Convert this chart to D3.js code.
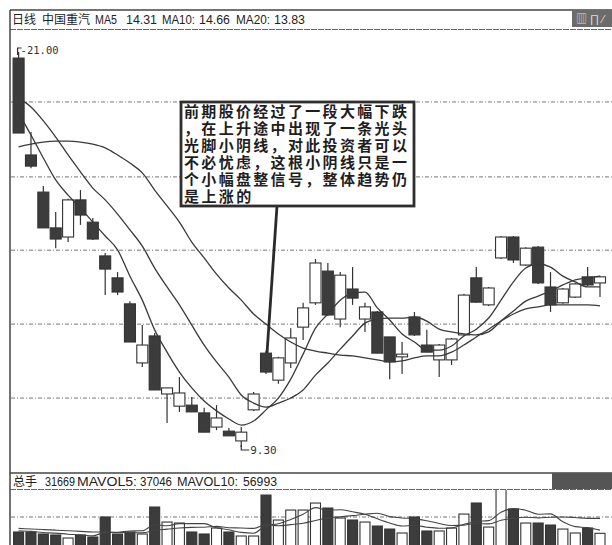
<!DOCTYPE html>
<html><head><meta charset="utf-8">
<script src="https://cdn.jsdelivr.net/npm/d3@7"></script>
<style>
html,body{margin:0;padding:0;background:#fff;}
svg{display:block;}
</style></head><body>
<svg id="c" width="612" height="545"></svg>
<script>
// ---------- DATA ----------
const openP  = [20.82,17.95,16.85,15.79,15.52,16.62,15.96,14.96,14.31,13.54,
                11.79,12.59,10.87,10.51,10.54,10.31,9.89,9.77,9.48,10.40,
                12.08,11.28,11.79,12.85,13.57,14.51,13.09,13.98,13.09,13.30,
                12.56,11.97,13.15,12.32,11.88,11.88,12.62,14.31,13.51,14.90,
                15.52,14.69,15.22,14.04,13.57,13.74,14.34,14.16];
const highP  = [21.00,18.63,17.03,16.26,16.65,16.91,16.08,15.05,14.48,13.62,
                12.91,12.68,11.05,11.37,10.78,10.46,10.54,9.86,9.89,10.93,
                12.14,11.97,12.82,13.57,14.87,14.75,14.48,14.63,13.57,13.33,
                12.56,12.41,13.30,12.77,12.35,12.53,13.83,14.63,14.04,15.55,
                15.55,15.22,15.25,14.48,14.01,14.16,14.63,14.37];
const lowP   = [18.60,17.56,15.79,15.19,15.37,15.88,15.43,13.80,13.80,12.41,
                11.67,10.99,10.01,10.34,10.34,9.74,9.80,9.63,9.30,10.37,
                11.46,11.17,11.64,12.47,13.51,13.18,12.85,13.51,12.71,12.08,
                11.31,11.46,12.59,12.11,11.37,11.73,12.59,13.57,13.48,14.87,
                14.75,14.66,14.13,13.30,13.54,13.71,14.07,13.74];
const closeP = [18.60,17.62,15.79,15.46,16.62,16.17,15.46,14.57,13.89,12.41,
                12.32,10.99,11.05,10.90,10.34,9.74,10.16,9.63,9.74,10.87,
                11.52,11.94,12.53,13.42,14.75,13.21,14.39,13.71,13.45,12.08,
                11.82,12.05,12.62,12.11,12.32,12.50,13.80,13.59,14.01,15.52,
                14.84,15.19,14.16,13.51,13.98,14.13,14.10,14.34];
const ma5  = [19.19,18.54,17.86,17.21,16.76,16.38,15.96,15.55,15.14,14.36,
              13.65,12.77,12.11,11.52,11.05,10.66,10.37,10.13,9.95,10.07,
              10.40,10.75,11.31,12.05,12.82,13.24,13.65,13.86,13.89,13.42,
              13.06,12.65,12.41,12.17,12.17,12.29,12.59,12.79,13.12,13.65,
              14.19,14.60,14.72,14.63,14.36,14.19,14.04,14.04];
const ma10 = [19.64,19.37,18.96,18.48,17.95,17.45,16.97,16.62,16.20,15.73,
              15.25,14.60,14.04,13.51,12.91,12.32,11.82,11.37,10.84,10.60,
              10.48,10.60,10.75,10.99,11.43,11.79,12.20,12.59,12.97,13.09,
              13.12,13.12,13.15,13.03,12.79,12.71,12.65,12.62,12.71,13.03,
              13.33,13.62,13.77,13.92,14.10,14.25,14.31,14.36];
const ma20 = [18.19,18.27,18.33,18.36,18.36,18.33,18.27,18.16,17.95,17.71,
              17.42,16.91,16.44,15.96,15.37,14.90,14.42,14.01,13.65,13.24,
              12.94,12.65,12.41,12.23,12.14,12.08,12.02,12.00,11.94,11.88,
              11.82,11.85,11.94,12.00,12.00,12.11,12.32,12.56,12.79,13.03,
              13.24,13.39,13.45,13.51,13.51,13.51,13.51,13.48];
const volume = [33900,33900,30500,28800,23700,28800,25400,59300,30500,33900,
                30500,76200,50800,49100,33900,30500,40600,33900,27100,27100,
                96500,54200,71100,71100,83000,74500,57600,54200,50800,44000,
                38900,32200,59300,35600,35600,40600,64300,83000,42300,106700,
                72800,49100,49100,45700,38900,32200,40600,31669];
const mavol5  = [36000,35000,33000,32000,30200,29100,27400,33200,33500,35600,
                 35900,46100,44400,48100,48100,48100,41000,37600,33200,31800,
                 45000,47800,55200,64000,75200,70800,71500,68100,64000,56200,
                 49100,44000,45000,42000,40300,40700,47100,51800,53200,67400,
                 73800,70800,64000,64700,51100,43000,41300,37046];
const mavol10 = [40000,39000,38000,37000,36000,35000,34000,34000,33000,32900,
                 32500,36800,38800,40800,41800,42000,43500,41000,40700,40000,
                 46600,44400,46400,48600,53500,57900,59600,61600,64000,65700,
                 59900,57700,56600,53000,48300,44900,45600,48400,47600,53900,
                 57200,58900,57900,58900,59300,58400,57000,56993];
const priceGrid = [19.52, 17.30, 15.13, 12.94, 10.75];
const volGrid = [59300];
const headerParts = ["日线","中国重汽","MA5","14.31","MA10:","14.66","MA20:","13.83"];
const volHeaderParts = ["总手","31669","MAVOL5:","37046","MAVOL10:","56993"];
const noteLines = ["前期股价经过了一段大幅下跌","，在上升途中出现了一条光头","光脚小阴线，对此投资者可以",
                   "不必忧虑，这根小阴线只是一","个小幅盘整信号，整体趋势仍","是上涨的"];
const highLabel = "-21.00", lowLabel = "9.30";
const noteIndex = 20;

// ---------- LAYOUT ----------
const svg = d3.select("#c");
const N = closeP.length, idx = d3.range(N);
const x = d3.scalePoint().domain(idx).range([18.6, 600]);
const y = d3.scaleLinear().domain([9.30, 21.00]).range([447, 52]);
const yv = d3.scaleLinear().domain([0, 100000]).range([552, 493]);
const ink = "#333", dark = "#3c3c3c";
const font = "'Liberation Sans','Noto Sans CJK SC',sans-serif";

svg.append("rect").attr("width",612).attr("height",545).attr("fill","#fff");
const defs = svg.append("defs");
defs.append("clipPath").attr("id","cm").append("rect").attr("x",11).attr("y",30).attr("width",601).attr("height",442);
defs.append("clipPath").attr("id","cv").append("rect").attr("x",11).attr("y",490).attr("width",601).attr("height",60);

// grid lines
svg.append("g").selectAll("line").data(priceGrid).join("line")
  .attr("x1",11).attr("x2",612).attr("y1",d=>y(d)).attr("y2",d=>y(d))
  .attr("stroke","#777").attr("stroke-width",1).attr("stroke-dasharray","4,2,1,2");
svg.append("g").selectAll("line").data(volGrid).join("line")
  .attr("x1",11).attr("x2",612).attr("y1",d=>yv(d)).attr("y2",d=>yv(d))
  .attr("stroke","#777").attr("stroke-width",1).attr("stroke-dasharray","4,2,1,2");

// frame
const frame = svg.append("g").attr("stroke","#444").attr("fill","none");
frame.append("line").attr("x1",10).attr("x2",612).attr("y1",10).attr("y2",10).attr("stroke-width",1.5);
frame.append("line").attr("x1",10).attr("x2",612).attr("y1",29.5).attr("y2",29.5).attr("stroke","#666").attr("stroke-dasharray","6,1");
frame.append("line").attr("x1",10).attr("x2",10).attr("y1",10).attr("y2",545).attr("stroke-width",1.5);
frame.append("line").attr("x1",10).attr("x2",612).attr("y1",473).attr("y2",473).attr("stroke-width",1.5);
frame.append("line").attr("x1",10).attr("x2",612).attr("y1",489.5).attr("y2",489.5).attr("stroke","#666").attr("stroke-dasharray","6,1");
svg.append("rect").attr("x",572).attr("y",10).attr("width",40).attr("height",17).attr("fill","#6b6b6b");
svg.append("text").attr("x",576).attr("y",23).attr("fill","#ddd").attr("font-size",11).attr("font-family",font).text("▥ ∏ ⁄");
svg.append("rect").attr("x",552).attr("y",473).attr("width",60).attr("height",16).attr("fill","#555");

// candles
const main = svg.append("g").attr("clip-path","url(#cm)");
const cg = main.append("g");
idx.forEach(i=>{
  const up = closeP[i] >= openP[i];
  const g = cg.append("g");
  g.append("line").attr("x1",x(i)).attr("x2",x(i)).attr("y1",y(highP[i])).attr("y2",y(lowP[i]))
    .attr("stroke",ink).attr("stroke-width",1.2);
  const top = y(Math.max(openP[i],closeP[i])), bot = y(Math.min(openP[i],closeP[i]));
  g.append("rect").attr("x",x(i)-5.5).attr("width",11).attr("y",top).attr("height",Math.max(1.5,bot-top))
    .attr("fill",up?"#fff":dark).attr("stroke",ink).attr("stroke-width",1.1);
});

// moving averages
const line = d3.line().x((d,i)=>x(i)).y(d=>y(d)).curve(d3.curveMonotoneX);
[ma5, ma10, ma20].forEach(s=>{
  main.append("path").attr("d",line(s)).attr("fill","none").attr("stroke","#3a3a3a").attr("stroke-width",1.3);
});

// high / low markers
const iH = highP.indexOf(d3.max(highP)), iL = lowP.indexOf(d3.min(lowP));
svg.append("path").attr("d",`M${x(iH)-1},${y(highP[iH])+3}V${y(highP[iH])-4}H${x(iH)+3}`)
  .attr("fill","none").attr("stroke",ink).attr("stroke-width",1.2);
svg.append("text").attr("x",x(iH)+2).attr("y",y(highP[iH])+1.5).attr("font-size",10.5)
  .attr("font-family","'DejaVu Sans Mono',monospace").attr("fill","#333").text(highLabel);
svg.append("path").attr("d",`M${x(iL)},${y(lowP[iL])-2}V${y(lowP[iL])+3}H${x(iL)+8}`)
  .attr("fill","none").attr("stroke",ink).attr("stroke-width",1.2);
svg.append("text").attr("x",x(iL)+9).attr("y",y(lowP[iL])+7).attr("font-size",11)
  .attr("font-family","'DejaVu Sans Mono',monospace").attr("fill","#333").text(lowLabel);

// volume
const vg = svg.append("g").attr("clip-path","url(#cv)");
idx.forEach(i=>{
  const up = closeP[i] >= openP[i];
  vg.append("rect").attr("x",x(i)-5).attr("width",10).attr("y",yv(volume[i])).attr("height",yv(0)-yv(volume[i]))
    .attr("fill",up?"#fff":dark).attr("stroke",ink).attr("stroke-width",1.1);
});
const vline = d3.line().x((d,i)=>x(i)).y(d=>yv(d)).curve(d3.curveMonotoneX);
[mavol5, mavol10].forEach(s=>{
  vg.append("path").attr("d",vline(s)).attr("fill","none").attr("stroke","#444").attr("stroke-width",1.1);
});

// headers
const hx = [12,42,95,126,162,199,236,274], hw = [24,48,22,31,33,31,34,31];
const ht = svg.append("text").attr("y",24).attr("font-size",12).attr("font-family",font).attr("fill","#222");
headerParts.forEach((t,k)=>ht.append("tspan").attr("x",hx[k]).attr("textLength",hw[k]).attr("lengthAdjust","spacingAndGlyphs").text(t));
const vx = [13,45,77,140,177,243], vw = [24,30,60,32,61,34];
const vt = svg.append("text").attr("y",486).attr("font-size",12.5).attr("font-family",font).attr("fill","#222");
volHeaderParts.forEach((t,k)=>vt.append("tspan").attr("x",vx[k]).attr("textLength",vw[k]).attr("lengthAdjust","spacingAndGlyphs").text(t));

// annotation
const bx = 181, by = 102, bw = 233, bh = 104;
svg.append("line").attr("x1",277).attr("y1",by+bh).attr("x2",x(noteIndex)+1).attr("y2",y(openP[noteIndex]))
  .attr("stroke","#2a2a2a").attr("stroke-width",2.8);
svg.append("rect").attr("x",bx).attr("y",by).attr("width",bw).attr("height",bh)
  .attr("fill","#fff").attr("stroke","#2e2e2e").attr("stroke-width",2.8);
const nt = svg.append("g").attr("font-family","'Liberation Sans','Noto Sans CJK SC',sans-serif").attr("font-weight","bold")
  .attr("font-size",15).attr("fill","#1e1e1e");
noteLines.forEach((t,k)=>{
  nt.append("text").attr("x",bx+3).attr("y",by+14.5+k*17).attr("textLength",t.length*17.3-2)
    .attr("lengthAdjust","spacing").text(t);
});
</script>
</body></html>
